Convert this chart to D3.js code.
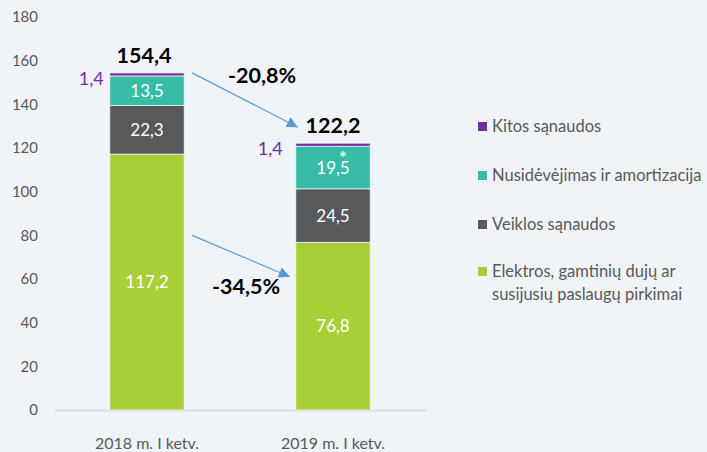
<!DOCTYPE html>
<html><head><meta charset="utf-8">
<script src="https://cdn.jsdelivr.net/npm/d3@7"></script>
<style>
html,body{margin:0;padding:0;background:#F0F4F8;}
svg{display:block;font-family:Lato, "Open Sans", sans-serif;}
</style></head>
<body>
<script>
const categories = ["2018 m. I ketv.", "2019 m. I ketv."];
const seriesNames = ["Elektros, gamtinių dujų ar susijusių paslaugų pirkimai", "Veiklos sąnaudos", "Nusidėvėjimas ir amortizacija", "Kitos sąnaudos"];
const elektros = [117.2, 76.8];
const veiklos = [22.3, 24.5];
const nusidevejimas = [13.5, 19.5];
const kitos = [1.4, 1.4];
const totals = [154.4, 122.2];
const changeTotal = "-20,8%";
const changeElektros = "-34,5%";
const yTicks = [0, 20, 40, 60, 80, 100, 120, 140, 160, 180];
const colors = ["#A9CF38", "#58595B", "#37BCA5", "#7030A0"];

const W = 707, H = 452;
const svg = d3.select("body").append("svg").attr("width", W).attr("height", H);
svg.append("rect").attr("width", W).attr("height", H).attr("fill", "#F0F4F8");

const x = d3.scaleBand().domain(categories).range([54, 426]).paddingInner(0.6).paddingOuter(0.3);
const y = d3.scaleLinear().domain([0, 180]).range([410, 17]);

// y axis labels
const yAxis = d3.axisLeft(y).tickValues(yTicks).tickSize(0).tickPadding(0).tickFormat(d3.format("d"));
const ya = svg.append("g").attr("transform", "translate(38,0)").call(yAxis);
ya.select(".domain").remove();
ya.selectAll("text").attr("fill", "#595959").style("font-size", "15px").style("font-family", "Lato");

// baseline + category labels
const xAxis = d3.axisBottom(x).tickSize(0).tickPadding(28);
const xa = svg.append("g").attr("transform", `translate(0,${y(0)})`).call(xAxis);
xa.select(".domain").attr("stroke", "#D9DDE2").attr("stroke-width", 2);
xa.selectAll("text").attr("fill", "#595959").style("font-size", "16px").style("font-family", "Lato");

const seriesValues = [elektros, veiklos, nusidevejimas, kitos];
const data = categories.map((c, i) => {
  const o = { cat: c };
  seriesValues.forEach((s, k) => o["s" + k] = s[i]);
  return o;
});
const stack = d3.stack().keys(["s0", "s1", "s2", "s3"])(data);

const g = svg.append("g");
stack.forEach((layer, k) => {
  g.selectAll(null).data(layer).enter().append("rect")
    .attr("x", d => x(d.data.cat))
    .attr("width", x.bandwidth())
    .attr("y", d => y(d[1]))
    .attr("height", d => y(d[0]) - y(d[1]))
    .attr("fill", colors[k])
    .attr("stroke", "#F0F4F8").attr("stroke-width", 0.8);
});

const fmt = v => d3.format(".1f")(v).replace(".", ",");

// inside labels for first three series
[0, 1, 2].forEach(k => {
  stack[k].forEach((d, i) => {
    const cx = x(d.data.cat) + x.bandwidth() / 2;
    const t = svg.append("text")
      .attr("x", cx)
      .attr("y", (y(d[0]) + y(d[1])) / 2 + 6)
      .attr("text-anchor", "middle")
      .attr("fill", "#ffffff")
      .style("font-size", "17px")
      .text(fmt(d.data["s" + k]));
    if (k === 2 && i === 1) {
      t.append("tspan").attr("x", cx + 10).attr("y", y(d[1]) + 19)
        .style("font-size", "20px").text("*");
    }
  });
});
// kitos labels (purple, left of bar)
stack[3].forEach((d, i) => {
  svg.append("text")
    .attr("x", x(d.data.cat) - (i === 0 ? 6 : 13))
    .attr("y", y(d[1]) + 12)
    .attr("text-anchor", "end")
    .attr("fill", "#7030A0")
    .style("font-size", "18px")
    .text(fmt(d.data.s3));
});
// totals
categories.forEach((c, i) => {
  svg.append("text")
    .attr("x", x(c) + x.bandwidth() / 2 - (i === 0 ? 3 : 0))
    .attr("y", y(totals[i]) - 10)
    .attr("text-anchor", "middle")
    .attr("fill", "#000")
    .style("font-size", "21.5px").style("font-weight", "bold")
    .text(fmt(totals[i]));
});

// arrows
const defs = svg.append("defs");
defs.append("marker").attr("id", "ah").attr("viewBox", "0 0 10 10").attr("refX", 10).attr("refY", 5)
  .attr("markerWidth", 15).attr("markerHeight", 11).attr("markerUnits", "userSpaceOnUse").attr("orient", "auto")
  .append("path").attr("d", "M0,0 L10,5 L0,10 Z").attr("fill", "#5B9BD5");

const xr0 = x(categories[0]) + x.bandwidth();
const xl1 = x(categories[1]);
svg.append("line").attr("x1", xr0 + 8).attr("y1", y(totals[0]))
  .attr("x2", xl1 + 2).attr("y2", y(totals[1]) - 16)
  .attr("stroke", "#5B9BD5").attr("stroke-width", 1.2).attr("marker-end", "url(#ah)");
svg.append("line").attr("x1", xr0 + 8).attr("y1", y(80))
  .attr("x2", xl1 - 6).attr("y2", y(61))
  .attr("stroke", "#5B9BD5").attr("stroke-width", 1.2).attr("marker-end", "url(#ah)");

svg.append("text").attr("x", 262).attr("y", 83).attr("text-anchor", "middle")
  .style("font-size", "21.5px").style("font-weight", "bold").attr("fill", "#000").text(changeTotal);
svg.append("text").attr("x", 246).attr("y", 294).attr("text-anchor", "middle")
  .style("font-size", "21.5px").style("font-weight", "bold").attr("fill", "#000").text(changeElektros);

// legend
const legendItems = [
  { name: ["Kitos sąnaudos"], color: colors[3], y: 127 },
  { name: ["Nusidėvėjimas ir amortizacija"], color: colors[2], y: 176 },
  { name: ["Veiklos sąnaudos"], color: colors[1], y: 225 },
  { name: ["Elektros, gamtinių dujų ar", "susijusių paslaugų pirkimai"], color: colors[0], y: 272 }
];
const lg = svg.append("g");
legendItems.forEach(it => {
  lg.append("rect").attr("x", 478).attr("y", it.y - 5).attr("width", 9).attr("height", 9).attr("fill", it.color);
  it.name.forEach((line, j) => {
    lg.append("text").attr("x", 492).attr("y", it.y + 5 + j * 23)
      .attr("fill", "#595959").style("font-size", "16.5px").text(line);
  });
});
</script>
</body></html>
